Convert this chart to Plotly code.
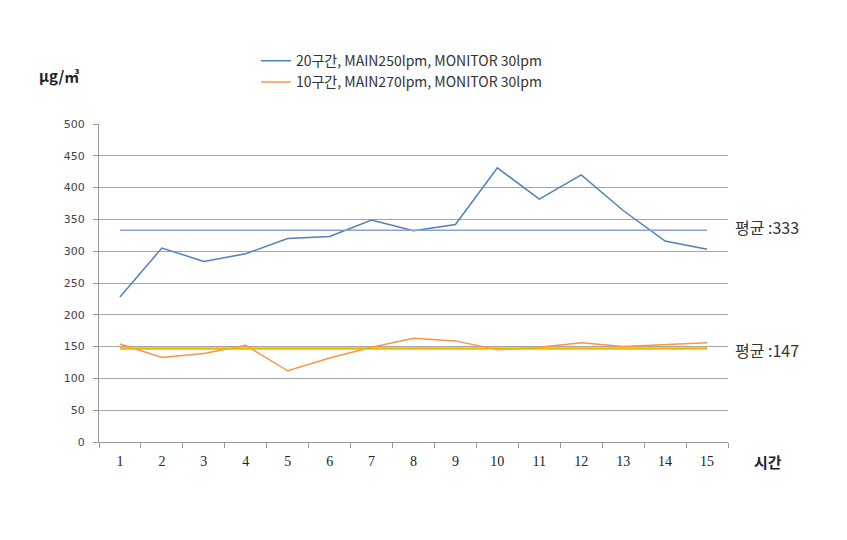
import plotly.graph_objects as go

categories = [str(i) for i in range(1, 16)]
series_20 = [228, 305, 284, 296, 320, 323, 349, 332, 342, 431, 382, 420, 364, 316, 303]
series_10 = [154, 133, 139, 152, 112, 132, 149, 163, 159, 145, 149, 156, 150, 153, 156]
mean_20 = 333
mean_10 = 147
name_20 = "20구간, MAIN250lpm, MONITOR 30lpm"
name_10 = "10구간, MAIN270lpm, MONITOR 30lpm"
y_ticks = [0, 50, 100, 150, 200, 250, 300, 350, 400, 450, 500]

fig = go.Figure()
fig.add_trace(go.Scatter(x=categories, y=series_20, mode="lines", name=name_20,
                         line=dict(color="#4F81BD", width=1.5)))
fig.add_trace(go.Scatter(x=categories, y=series_10, mode="lines", name=name_10,
                         line=dict(color="#F79646", width=1.5)))
fig.add_trace(go.Scatter(x=[categories[0], categories[-1]], y=[mean_20, mean_20], mode="lines",
                         showlegend=False, line=dict(color="#8C9FD6", width=1.5)))
fig.add_trace(go.Scatter(x=[categories[0], categories[-1]], y=[mean_10, mean_10], mode="lines",
                         showlegend=False, line=dict(color="#F2B800", width=2.5)))

fig.update_layout(
    width=847, height=540,
    margin=dict(l=91, r=127, t=116, b=106),
    paper_bgcolor="white", plot_bgcolor="white",
    font=dict(family="Noto Sans CJK KR, Liberation Sans, sans-serif", size=12, color="#333333"),
    legend=dict(x=0.2495, y=1.248, xanchor="left", yanchor="top", bgcolor="rgba(0,0,0,0)",
                font=dict(size=14, color="#333333"), tracegroupgap=0),
    showlegend=True,
    xaxis=dict(type="category", categoryorder="array", categoryarray=categories,
               showgrid=False, showline=True, linecolor="#9a9a9a", linewidth=1,
               ticks="outside", tickson="boundaries", ticklen=5, tickcolor="#9a9a9a",
               ticklabelstandoff=6,
               tickfont=dict(family="Liberation Serif, serif", size=14, color="#222222"),
               range=[-0.5, 14.5], fixedrange=True),
    yaxis=dict(range=[0, 500], tickvals=y_ticks, showgrid=True, gridcolor="#a6a6a6", gridwidth=1,
               showline=True, linecolor="#9a9a9a", linewidth=1, ticks="outside", ticklen=5,
               tickcolor="#9a9a9a", zeroline=False, ticklabelstandoff=6,
               tickfont=dict(family="DejaVu Sans, sans-serif", size=11, color="#444444")),
)

fig.add_annotation(text="<b>µg/㎥</b>", xref="paper", yref="paper", x=-0.064, y=1.152,
                   xanchor="center", yanchor="middle", showarrow=False,
                   font=dict(size=15, color="#222222"))
fig.add_annotation(text="평균 :333", xref="paper", yref="y", x=1.008, y=mean_20 + 5,
                   xanchor="left", yanchor="middle", showarrow=False,
                   font=dict(size=16, color="#333333"))
fig.add_annotation(text="평균 :147", xref="paper", yref="y", x=1.008, y=mean_10 - 3,
                   xanchor="left", yanchor="middle", showarrow=False,
                   font=dict(size=16, color="#333333"))
fig.add_annotation(text="<b>시간</b>", xref="paper", yref="paper", x=1.038, y=-0.062,
                   xanchor="left", yanchor="middle", showarrow=False,
                   font=dict(size=15, color="#222222"))

fig.write_html("out.html")
